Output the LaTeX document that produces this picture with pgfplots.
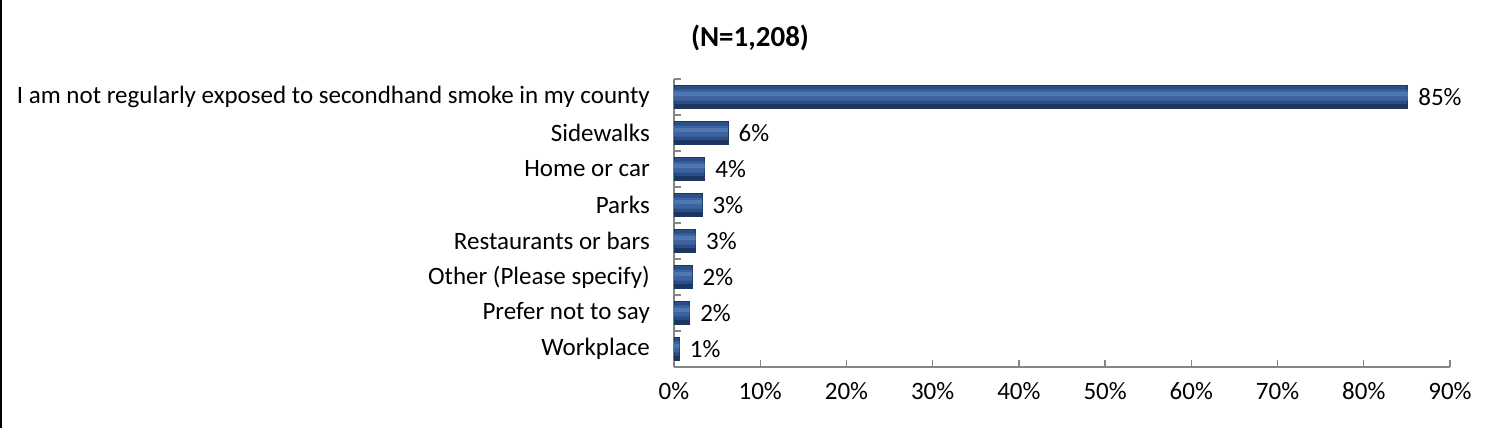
\documentclass[border=0pt]{standalone}
\usepackage{pgfplots}
\pgfplotsset{compat=1.18}
\usepackage{fontspec}
\setmainfont{Carlito}
\definecolor{axgray}{RGB}{134,134,134}
\definecolor{barbase}{RGB}{42,78,136}
\definecolor{barlight}{RGB}{60,99,158}
\definecolor{barhi}{RGB}{78,118,176}
\definecolor{bardark}{RGB}{28,52,96}
\definecolor{baredge}{RGB}{30,56,100}
\pgfplotstableread{
x y
0.62 0
1.82 1
2.09 2
2.5 3
3.25 4
3.56 5
6.26 6
85.1 7
}\datatable
\begin{document}
\begin{tikzpicture}[x=1pt,y=1pt]
\useasboundingbox (0,0) rectangle (1494,428);
\draw[black,line width=1.5pt] (0.75,0) -- (0.75,428);
\node[font=\fontsize{29}{33}\selectfont\bfseries] at (750,390) {(N=1,208)};
\begin{axis}[
  at={(674pt,61pt)}, anchor=south west,
  scale only axis, width=776pt, height=288pt,
  xbar,
  xmin=0, xmax=90, ymin=-0.5, ymax=7.5,
  axis x line*=bottom, axis y line*=left,
  axis line style={-, axgray, line width=1.8pt},
  tick align=inside,
  xtick={0,10,...,90},
  xticklabel={\pgfmathprintnumber{\tick}\%},
  ytick={0,...,7},
  yticklabels={Workplace, Prefer not to say, Other (Please specify), Restaurants or bars, Parks, Home or car, Sidewalks, I am not regularly exposed to secondhand smoke in my county},
  minor ytick={-0.5,0.5,...,7.5},
  major y tick style={draw=none},
  major tick length=7pt, minor tick length=7pt,
  tick style={axgray, line width=1.3pt},
  minor y tick style={axgray, line width=1.3pt},
  every x tick label/.append style={font=\fontsize{25}{29}\selectfont, inner sep=0pt, yshift=-15pt},
  every y tick label/.append style={font=\fontsize{25}{29}\selectfont, inner sep=0pt, xshift=-24pt},
  /pgf/number format/assume math mode=true,
  clip=false,
]
\addplot[bar shift=0pt, bar width=23pt, draw=baredge, line width=0.6pt, fill=barbase,
  point meta=x,
  nodes near coords={\pgfmathprintnumber[fixed,precision=0]{\pgfplotspointmeta}\%},
  nodes near coords style={font=\fontsize{25}{29}\selectfont, anchor=west, xshift=7pt, /pgf/number format/assume math mode=true}]
  table[x=x,y=y] {\datatable};
\addplot[bar shift=2pt, bar width=11pt, draw=none, fill=barlight] table[x=x,y=y] {\datatable};
\addplot[bar shift=3pt, bar width=4pt, draw=none, fill=barhi] table[x=x,y=y] {\datatable};
\addplot[bar shift=-9pt, bar width=4pt, draw=none, fill=bardark] table[x=x,y=y] {\datatable};
\end{axis}
\end{tikzpicture}
\end{document}
